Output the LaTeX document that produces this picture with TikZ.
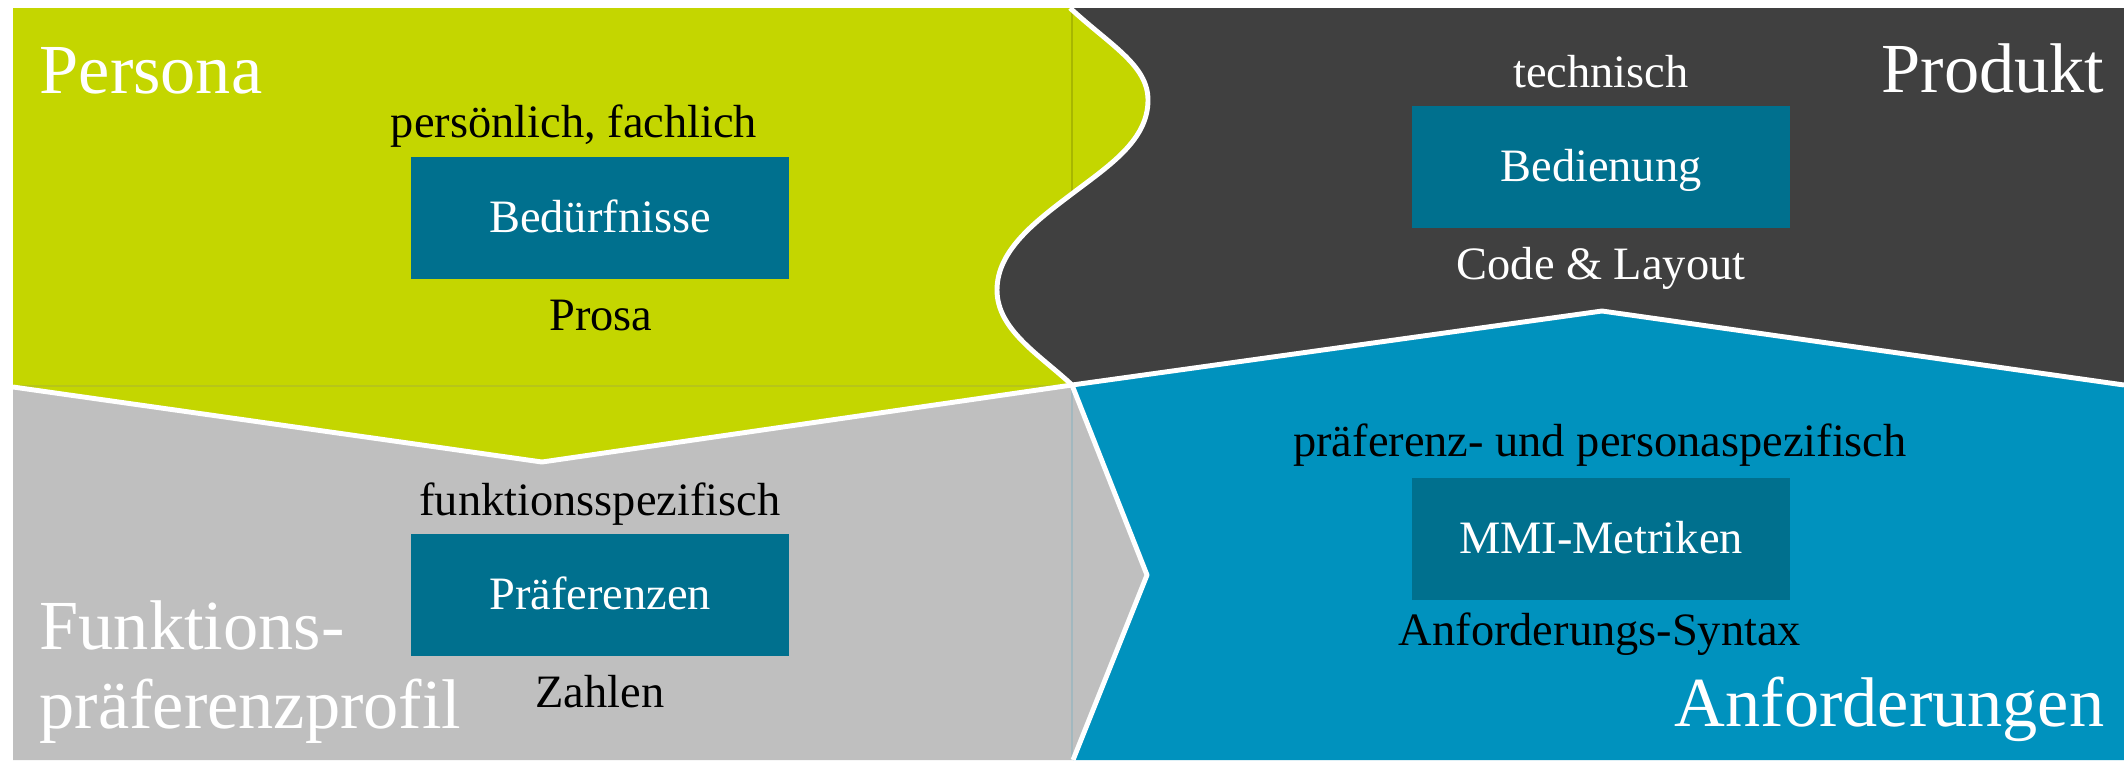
\documentclass[tikz,border=0pt]{standalone}
\usepackage{fontspec}
\setmainfont{Liberation Serif}

\definecolor{personagruen}{HTML}{C4D600}
\definecolor{produktgrau}{HTML}{404040}
\definecolor{profilgrau}{HTML}{BFBFBF}
\definecolor{anfblau}{HTML}{0092BE}
\definecolor{kernblau}{HTML}{00708E}

\begin{document}
\begin{tikzpicture}[x=0.01cm, y=-0.01cm,
    titel/.style={text=white, inner sep=0pt, font=\fontsize{20}{22.2}\selectfont},
    notiz/.style={inner sep=0pt, font=\fontsize{13.2}{15}\selectfont},
    kern/.style={fill=kernblau, text=white, inner sep=0pt,
      minimum width=3.78cm, minimum height=1.21cm,
      text height=9.5pt, text depth=1pt, font=\fontsize{13.2}{15}\selectfont},
    grenze/.style={white, line width=1.4pt, line join=round}]
    \useasboundingbox (0, 0) rectangle (2124, 760);

    % Flaechen
    \fill[produktgrau] (13, 8) rectangle (2124, 392);
    \fill[anfblau] (1072, 385) -- (1602, 311) -- (2124, 385) -- (2124, 760) -- (1073, 760) -- (1147, 575) -- cycle;
    \fill[profilgrau] (13, 387) -- (542, 462) -- (1072, 385) -- (1147, 575) -- (1073, 760) -- (13, 760) -- cycle;
    \fill[personagruen] (13, 8) -- (1070, 8)
      .. controls (1110, 45) and (1148, 65) .. (1148, 100)
      .. controls (1148, 140) and (1110, 165) .. (1073, 193)
      .. controls (1036, 221) and (997, 250) .. (997, 290)
      .. controls (997, 330) and (1040, 355) .. (1072, 385)
      -- (542, 462) -- (13, 387) -- cycle;

    % Haarlinien
    \draw[personagruen!85!black, line width=0.3pt] (1072, 8) -- (1072, 192);
    \draw[personagruen!80!gray, line width=0.3pt] (13, 386) -- (1060, 386);
    \draw[profilgrau!85!anfblau, line width=0.3pt] (1072, 390) -- (1072, 760);

    % Grenzen
    \draw[grenze] (1070, 8)
      .. controls (1110, 45) and (1148, 65) .. (1148, 100)
      .. controls (1148, 140) and (1110, 165) .. (1073, 193)
      .. controls (1036, 221) and (997, 250) .. (997, 290)
      .. controls (997, 330) and (1040, 355) .. (1072, 385);
    \draw[grenze] (13, 387) -- (542, 462) -- (1072, 385) -- (1602, 311) -- (2124, 385);
    \draw[grenze] (1072, 385) -- (1147, 575) -- (1073, 760);

    % Kerne
    \node (beduerfnisse) at (600, 218) [kern] {Bedürfnisse};
    \node (bedienung) at (1601, 167) [kern] {Bedienung};
    \node (praeferenzen) at (600, 595) [kern] {Präferenzen};
    \node (metriken) at (1601, 539) [kern] {MMI-Metriken};

    \node (persoenlich) at (574, 137) [notiz, anchor=base] {persönlich, fachlich};
    \node (prosa) at (601, 330) [notiz, anchor=base] {Prosa};
    \node (technisch) at (1601, 87) [notiz, anchor=base, text=white] {technisch};
    \node (code) at (1601, 279) [notiz, anchor=base, text=white] {Code \& Layout};
    \node (funktion) at (600, 515) [notiz, anchor=base] {funktionsspezifisch};
    \node (zahlen) at (600, 707) [notiz, anchor=base] {Zahlen};
    \node (spezifisch) at (1600, 456) [notiz, anchor=base] {präferenz- und personaspezifisch};
    \node (syntax) at (1600, 645) [notiz, anchor=base] {Anforderungs-Syntax};

    % Titel
    \node (persona) at (39, 93) [titel, anchor=base west] {Persona};
    \node (produkt) at (2105, 92) [titel, anchor=base east] {Produkt};
    \node (profil) at (39, 728) [titel, anchor=base west, align=left] {Funktions-\\präferenzprofil};
    \node (anford) at (2105, 726) [titel, anchor=base east] {Anforderungen};
\end{tikzpicture}
\end{document}
